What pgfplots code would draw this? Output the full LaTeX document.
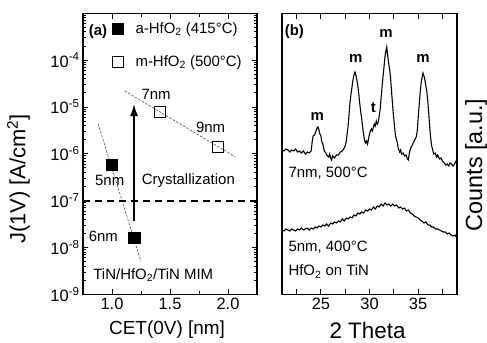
\documentclass[border=0pt]{standalone}
\usepackage{fontspec}
\setmainfont{Liberation Sans}
\usepackage{pgfplots}
\pgfplotsset{compat=1.18}
\usetikzlibrary{arrows.meta}
\newcommand{\ann}{\fontsize{15}{17}\selectfont}
\newcommand{\tlab}{\fontsize{16.5}{18}\selectfont}
\pgfplotsset{
  common/.style={
    scale only axis, anchor=south west, clip=false,
    axis line style={line width=1.3pt},
    every tick/.style={line width=0.9pt, black},
    tick align=inside, xtick pos=both, ytick pos=both,
    major tick length=5.5pt, minor tick length=3.5pt,
    tick label style={font=\tlab},
    /pgf/number format/assume math mode=true,
  }
}
\begin{document}
\begin{tikzpicture}
\path[use as bounding box] (0,0) rectangle (487bp,343bp);
\begin{axis}[common,
  at={(83bp,48.7bp)}, width=174bp, height=281bp,
  xmin=0.75, xmax=2.25, ymode=log, ymin=1e-9, ymax=1e-3,
  xtick={1,1.5,2}, xticklabels={1.0,1.5,2.0}, minor xtick={1.25,1.75},
  ytick={1e-9,1e-8,1e-7,1e-6,1e-5,1e-4,1e-3},
  yticklabels={10\textsuperscript{-9},10\textsuperscript{-8},10\textsuperscript{-7},10\textsuperscript{-6},10\textsuperscript{-5},10\textsuperscript{-4},{}},
  minor ytick={2e-9,3e-9,4e-9,5e-9,6e-9,7e-9,8e-9,9e-9,
               2e-8,3e-8,4e-8,5e-8,6e-8,7e-8,8e-8,9e-8,
               2e-7,3e-7,4e-7,5e-7,6e-7,7e-7,8e-7,9e-7,
               2e-6,3e-6,4e-6,5e-6,6e-6,7e-6,8e-6,9e-6,
               2e-5,3e-5,4e-5,5e-5,6e-5,7e-5,8e-5,9e-5,
               2e-4,3e-4,4e-4,5e-4,6e-4,7e-4,8e-4,9e-4},
  xlabel={CET(0V) [nm]},
  xlabel style={font=\fontsize{19}{21}\selectfont, at={(axis description cs:0.483,-0.127)}, anchor=center},
  ylabel={J(1V) [A/cm\textsuperscript{2}]},
  ylabel style={font=\fontsize{22}{24}\selectfont, at={(axis description cs:-0.37,0.41)}, anchor=center},
  legend style={at={(axis description cs:0.167,0.976)}, anchor=north west, draw=none, fill=none,
    font=\ann, inner xsep=0pt, inner ysep=0pt, row sep=17pt, column sep=10pt},
  legend cell align=left,
  legend image code/.code={\draw[#1] plot coordinates {(0pt,0pt)};},
]
\addplot[only marks, mark=square*, mark size=5.7pt, black] coordinates {(1.0,5.9e-7) (1.19,1.6e-8)};
\addlegendentry{a-HfO\textsubscript{2} (415°C)}
\addplot[only marks, mark=square, mark size=5.5pt, line width=0.8pt, black] coordinates {(1.41,7.8e-6) (1.91,1.4e-6)};
\addlegendentry{m-HfO\textsubscript{2} (500°C)}
\addplot[forget plot, black!70, line width=0.6pt, dash pattern=on 2.5pt off 1.5pt] coordinates {(0.88,4.4e-6) (1.25,5.0e-9)};
\addplot[forget plot, black!70, line width=0.6pt, dash pattern=on 2.5pt off 1.5pt] coordinates {(1.11,2.2e-5) (2.06,8.7e-7)};
\addplot[forget plot, black, line width=1.8pt, dash pattern=on 7pt off 5pt] coordinates {(0.75,1e-7) (2.25,1e-7)};
\addplot[forget plot, black, line width=1.5pt, -{Latex[length=12pt,width=8pt]}] coordinates {(1.19,3.6e-8) (1.19,1.15e-5)};
\node[font=\bfseries\ann] at (axis cs:0.88,4e-4) {(a)};
\node[font=\ann] at (axis cs:1.38,1.9e-5) {7nm};
\node[font=\ann] at (axis cs:1.85,3.63e-6) {9nm};
\node[font=\ann] at (axis cs:0.98,2.7e-7) {5nm};
\node[font=\ann] at (axis cs:1.658,2.7e-7) {Crystallization};
\node[font=\ann] at (axis cs:0.925,1.76e-8) {6nm};
\node[font=\ann] at (axis cs:1.356,2.57e-9) {TiN/HfO\textsubscript{2}/TiN MIM};
\end{axis}

\begin{axis}[common,
  at={(282bp,48.7bp)}, width=175bp, height=281bp,
  xmin=21, xmax=39, ymin=-0.3, ymax=280.7,
  xtick={25,30,35}, minor xtick={22.5,27.5,32.5,37.5}, minor tick length=5.5pt,
  ytick=\empty,
  xlabel={2 Theta},
  xlabel style={font=\fontsize{22.5}{24}\selectfont, at={(axis description cs:0.489,-0.128)}, anchor=center},
  ylabel={Counts [a.u.]},
  ylabel style={font=\fontsize{23.5}{25}\selectfont, at={(axis description cs:1.109,0.46)}, anchor=center},
]
\addplot[black, line width=1.1pt] coordinates {
(21.0,144)(21.2,143)(21.4,145)(21.6,144)(21.8,142)(22.0,144)(22.2,143)(22.4,145)(22.6,142)(22.8,143)
(23.0,141)(23.2,143)(23.4,140)(23.6,142)(23.8,141)(24.0,143)(24.1,152)(24.2,158)(24.35,159)(24.5,163)
(24.6,166)(24.7,167)(24.8,164)(24.9,160)(25.0,158)(25.1,152)(25.2,150)(25.35,143)(25.5,141)(25.6,139)
(25.8,137)(25.9,140)(26.0,136)(26.1,134)(26.2,138)(26.4,136)(26.6,139)(26.8,139)(27.0,142)(27.2,143)
(27.4,146)(27.5,148)(27.6,152)(27.7,160)(27.8,168)(27.9,180)(28.0,192)(28.1,200)(28.2,207)(28.3,214)
(28.4,219)(28.5,222)(28.6,219)(28.7,214)(28.8,208)(28.9,200)(29.0,190)(29.1,182)(29.2,175)(29.3,166)
(29.4,159)(29.5,153)(29.6,151)(29.7,153)(29.8,150)(29.9,155)(30.0,160)(30.1,163)(30.2,165)(30.3,163)
(30.4,167)(30.5,170)(30.6,168)(30.7,173)(30.8,170)(30.9,172)(31.0,178)(31.1,185)(31.2,197)(31.3,208)
(31.4,218)(31.5,228)(31.6,238)(31.7,244)(31.77,247)(31.85,240)(31.95,232)(32.05,226)(32.15,218)(32.25,205)
(32.35,192)(32.45,180)(32.55,170)(32.65,160)(32.75,155)(32.85,152)(32.95,146)(33.1,142)(33.2,144)(33.3,140)
(33.45,141)(33.6,138)(33.75,139)(33.9,135)(34.0,134)(34.1,141)(34.2,145)(34.35,148)(34.5,151)(34.65,154)
(34.8,157)(34.9,162)(35.0,175)(35.1,188)(35.2,200)(35.3,210)(35.4,216)(35.5,221)(35.6,218)(35.7,214)
(35.8,208)(35.9,202)(36.0,192)(36.1,180)(36.2,166)(36.3,155)(36.4,148)(36.5,144)(36.6,140)(36.75,141)
(36.9,137)(37.0,139)(37.2,135)(37.35,136)(37.5,133)(37.7,131)(37.85,129)(38.0,130)(38.15,128)(38.3,131)
(38.45,130)(38.6,128)(38.75,130)(38.9,133)(39.0,134)};
\addplot[black, line width=1.1pt] coordinates {
(21.0,64)(21.2,63)(21.4,65)(21.6,64)(21.8,63)(22.0,65)(22.2,64)(22.4,63)(22.6,65)(22.8,64)
(23.0,66)(23.2,64)(23.4,65)(23.6,66)(23.8,64)(24.0,66)(24.2,65)(24.4,67)(24.6,66)(24.8,68)
(25.0,67)(25.2,69)(25.4,68)(25.6,70)(25.8,68)(26.0,71)(26.2,70)(26.4,72)(26.6,71)(26.8,73)
(27.0,72)(27.2,75)(27.4,73)(27.6,76)(27.8,75)(28.0,77)(28.2,76)(28.4,79)(28.6,78)(28.8,81)
(29.0,80)(29.2,82)(29.4,81)(29.6,84)(29.8,83)(30.0,85)(30.2,84)(30.4,87)(30.6,85)(30.8,88)
(31.0,87)(31.2,90)(31.4,88)(31.6,91)(31.8,89)(32.0,90)(32.2,88)(32.4,90)(32.6,88)(32.8,89)
(33.0,86)(33.2,87)(33.4,85)(33.6,86)(33.8,83)(34.0,84)(34.2,81)(34.4,80)(34.6,78)(34.8,77)
(35.0,76)(35.2,74)(35.4,73)(35.6,71)(35.8,72)(36.0,69)(36.2,69)(36.4,67)(36.6,67)(36.8,65)
(37.0,65)(37.2,64)(37.4,63)(37.6,62)(37.8,62)(38.0,60)(38.2,61)(38.4,59)(38.6,58)(38.8,59)(39.0,56)};
\node[font=\bfseries\ann] at (axis cs:22.27,262) {(b)};
\node[font=\bfseries\ann] at (axis cs:24.63,178) {m};
\node[font=\bfseries\ann] at (axis cs:28.6,236) {m};
\node[font=\bfseries\ann] at (axis cs:30.4,186) {t};
\node[font=\bfseries\ann] at (axis cs:31.7,261) {m};
\node[font=\bfseries\ann] at (axis cs:35.5,236) {m};
\node[font=\ann, anchor=west, inner sep=0pt] at (axis cs:21.65,121) {7nm, 500°C};
\node[font=\ann, anchor=west, inner sep=0pt] at (axis cs:21.65,47) {5nm, 400°C};
\node[font=\ann, anchor=west, inner sep=0pt] at (axis cs:21.65,22.5) {HfO\textsubscript{2} on TiN};
\end{axis}
\end{tikzpicture}
\end{document}
